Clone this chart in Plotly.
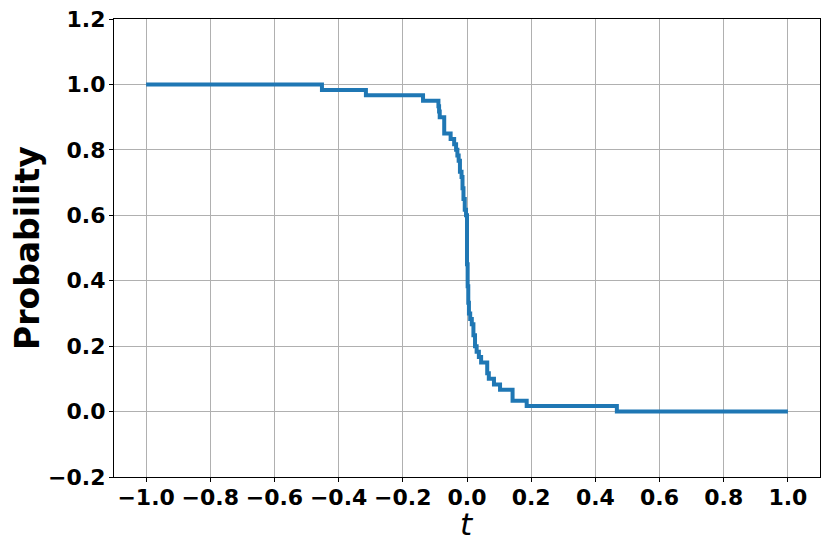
import plotly.graph_objects as go

# survival curve: step positions and probability after each step
t_vals = [-1.0, -0.452, -0.315, -0.137, -0.089, -0.087, -0.085, -0.071, -0.051, -0.040,
          -0.034, -0.030, -0.026, -0.022, -0.017, -0.014, -0.011, -0.007, -0.003, 0.000,
          0.002, 0.004, 0.006, 0.010, 0.015, 0.020, 0.025, 0.030, 0.037, 0.044,
          0.063, 0.068, 0.072, 0.084, 0.103, 0.142, 0.186, 0.467, 1.0]
prob = [1.0, 0.983, 0.967, 0.950, 0.933, 0.917, 0.900, 0.850, 0.833, 0.817,
        0.800, 0.783, 0.767, 0.733, 0.717, 0.683, 0.650, 0.617, 0.600, 0.450,
        0.383, 0.333, 0.300, 0.283, 0.267, 0.233, 0.200, 0.183, 0.167, 0.150,
        0.117, 0.100, 0.100, 0.083, 0.067, 0.033, 0.017, 0.0, 0.0]

x_ticks = [-1.0, -0.8, -0.6, -0.4, -0.2, 0.0, 0.2, 0.4, 0.6, 0.8, 1.0]
y_ticks = [-0.2, 0.0, 0.2, 0.4, 0.6, 0.8, 1.0, 1.2]

def lab(v):
    return f"{v:.1f}".replace("-", "\u2212")

fig = go.Figure()
fig.add_trace(go.Scatter(x=t_vals, y=prob, mode="lines", line_shape="hv",
                         line=dict(color="#1f77b4", width=4), showlegend=False))

axis_common = dict(showgrid=True, gridcolor="#b0b0b0", gridwidth=1,
                   showline=True, linecolor="black", linewidth=1.2, mirror=True,
                   ticks="outside", ticklen=4, tickcolor="black", zeroline=False,
                   automargin=False, ticklabeloverflow="allow",
                   tickfont=dict(family="DejaVu Sans", size=22, color="black", weight="bold"))

fig.update_xaxes(range=[-1.1, 1.1], tickvals=x_ticks, ticktext=[lab(v) for v in x_ticks],
                 ticklabelstandoff=-4, **axis_common)
fig.update_yaxes(range=[-0.2, 1.2], tickvals=y_ticks, ticktext=[lab(v) for v in y_ticks],
                 ticklabelstandoff=-1, **axis_common)

# axis titles placed as annotations
fig.add_annotation(text="<i>t</i>", xref="paper", yref="paper", x=0.5, y=0,
                   xanchor="center", yanchor="top", yshift=-27, showarrow=False,
                   font=dict(family="DejaVu Sans", size=31, color="black"))
fig.add_annotation(text="<b>Probability</b>", xref="paper", yref="paper", x=0, y=0.5,
                   xanchor="center", yanchor="middle", xshift=-87, textangle=-90, showarrow=False,
                   font=dict(family="DejaVu Sans", size=33, color="black"))

# page body has an 8px margin, so the figure is made 8px smaller each way
fig.update_layout(width=822, height=546, plot_bgcolor="white", paper_bgcolor="white",
                  margin=dict(l=106, r=10, t=11, b=77))

fig.write_html("out.html")
